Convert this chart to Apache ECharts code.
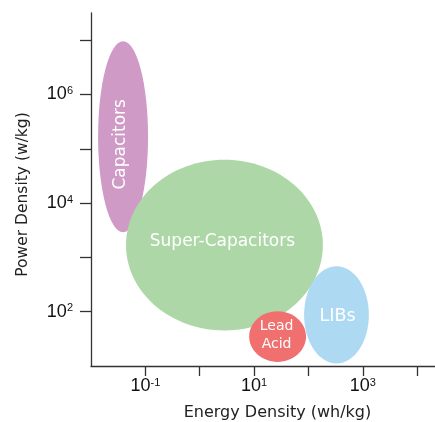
<!DOCTYPE html>
<html>
<head>
<meta charset="utf-8">
<style>html,body{margin:0;padding:0;background:#fff}#chart{width:435px;height:422px}</style>
<script src="https://cdn.jsdelivr.net/npm/echarts@6/dist/echarts.min.js"></script>
</head>
<body>
<div id="chart"></div>
<script>
// ---- data (energy density in wh/kg, power density in w/kg) ----
const categories = ['Capacitors', 'Super-Capacitors', 'Lead Acid', 'LIBs'];
const energyMin = [0.0135, 0.044, 8.1, 83];
const energyMax = [0.112, 184, 90, 1290];
const powerMin  = [2900, 45, 11.9, 11.1];
const powerMax  = [9.5e6, 63000, 102, 690];
// axis tick exponents (decades)
const xTickExp  = [-1, 0, 1, 2, 3, 4];
const xLabelExp = [-1, 1, 3];
const yTickExp  = [2, 3, 4, 5, 6, 7];
const yLabelExp = [2, 4, 6];

// ---- styles ----
const fills = ['#D09AC7', '#AED7A8', '#F07070', '#ADD9F2'];
const labelText = ['Capacitors', 'Super-Capacitors', 'Lead\nAcid', 'LIBs'];
const labelStyle = [
  {size: 17, rot: Math.PI / 2, dx: -2.5, dy: 7.5},
  {size: 17, rot: 0, dx: -2, dy: -4},
  {size: 14, rot: 0, dx: -1, dy: -1, lh: 18},
  {size: 17.5, rot: 0, dx: 1, dy: 2}
];

const seriesData = categories.map((c, i) => ({
  name: c,
  value: [Math.log10(energyMin[i]), Math.log10(energyMax[i]),
          Math.log10(powerMin[i]), Math.log10(powerMax[i])]
}));

function supFmt(v) {
  const e = Math.round(v);
  return '{b|10}{s|' + (e < 0 ? '-' + (-e) : e) + '}';
}
const richLab = {
  b: {fontSize: 18, lineHeight: 18, fontFamily: 'Liberation Sans', color: '#111'},
  s: {fontSize: 11, lineHeight: 11, verticalAlign: 'top', fontFamily: 'Liberation Sans', color: '#111'}
};
const axisLineStyle = {color: '#333', width: 1.3};

const chart = echarts.init(document.getElementById('chart'), null, {renderer: 'canvas'});
chart.setOption({
  animation: false,
  backgroundColor: '#fff',
  grid: {left: 91, right: -29, top: 13, bottom: 56, containLabel: false, outerBoundsMode: 'none'},
  xAxis: {
    type: 'value', min: -2, max: 4.86,
    name: 'Energy Density (wh/kg)', nameLocation: 'middle', nameGap: 39,
    nameTextStyle: {fontFamily: 'DejaVu Sans', fontSize: 16, color: '#222'},
    axisLine: {show: true, onZero: false, lineStyle: axisLineStyle},
    axisTick: {show: true, inside: false, length: 10, customValues: xTickExp, lineStyle: axisLineStyle},
    axisLabel: {customValues: xLabelExp, margin: 11, formatter: supFmt, rich: richLab},
    splitLine: {show: false}
  },
  yAxis: {
    type: 'value', min: 1, max: 7.5,
    name: 'Power Density (w/kg)', nameLocation: 'middle', nameGap: 60,
    nameTextStyle: {fontFamily: 'DejaVu Sans', fontSize: 15.5, color: '#222', padding: [0, 10, 0, 0]},
    axisLine: {show: true, onZero: false, lineStyle: axisLineStyle},
    axisTick: {show: true, inside: false, length: 11, customValues: yTickExp, lineStyle: axisLineStyle},
    axisLabel: {customValues: yLabelExp, margin: 18, formatter: supFmt, rich: richLab},
    splitLine: {show: false}
  },
  series: [{
    type: 'custom',
    coordinateSystem: 'cartesian2d',
    encode: {x: [0, 1], y: [2, 3]},
    data: seriesData,
    clip: false,
    renderItem: function (params, api) {
      const i = params.dataIndex;
      const p1 = api.coord([api.value(0), api.value(2)]);
      const p2 = api.coord([api.value(1), api.value(3)]);
      const cx = (p1[0] + p2[0]) / 2, cy = (p1[1] + p2[1]) / 2;
      const rx = Math.abs(p2[0] - p1[0]) / 2, ry = Math.abs(p2[1] - p1[1]) / 2;
      const ls = labelStyle[i];
      return {
        type: 'group',
        children: [
          {type: 'ellipse', shape: {cx: cx, cy: cy, rx: rx, ry: ry}, style: {fill: fills[i]}},
          {type: 'text', x: cx + ls.dx, y: cy + ls.dy, rotation: ls.rot,
           style: {text: labelText[i], fill: '#fff', fontSize: ls.size, fontFamily: 'DejaVu Sans',
                   align: 'center', verticalAlign: 'middle', lineHeight: ls.lh || ls.size * 1.2}}
        ]
      };
    }
  }]
});
</script>
</body>
</html>
